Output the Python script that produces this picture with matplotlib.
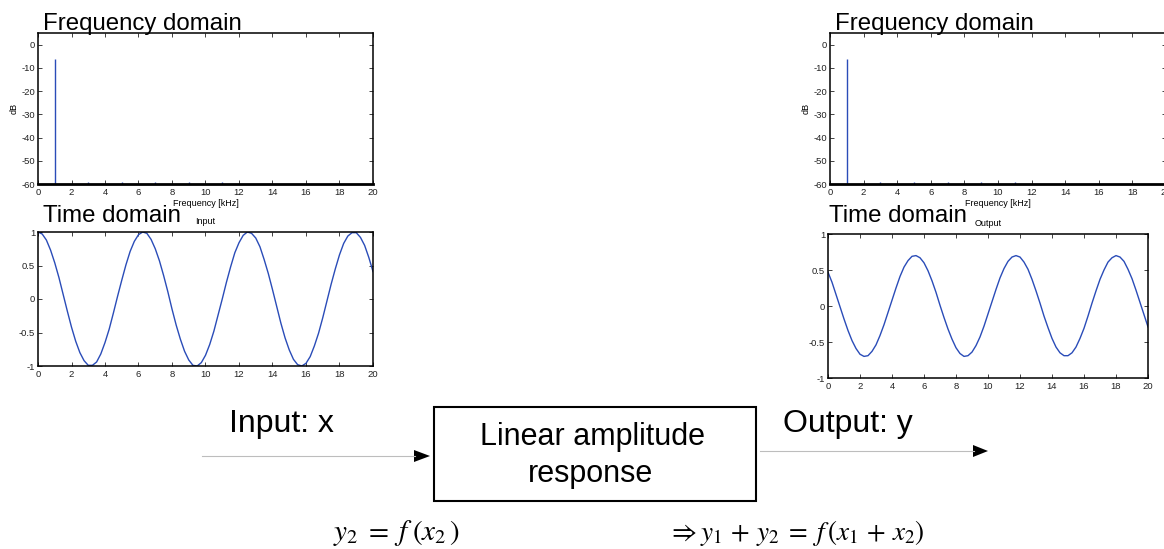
import matplotlib
matplotlib.use("Agg")
import matplotlib.pyplot as plt
from matplotlib.patches import Rectangle, Polygon

plt.rcParams.update({
    "font.family": ["Liberation Sans", "DejaVu Sans"],
    "mathtext.fontset": "stix",
    "axes.unicode_minus": False,
    "axes.linewidth": 1.1,
    "xtick.direction": "in",
    "ytick.direction": "in",
    "xtick.top": True,
    "ytick.right": True,
    "xtick.major.size": 3,
    "ytick.major.size": 3,
    "xtick.major.width": 0.6,
    "ytick.major.width": 0.6,
    "xtick.labelsize": 6.8,
    "ytick.labelsize": 6.8,
    "xtick.major.pad": 3,
    "ytick.major.pad": 2,
    "xtick.color": "#222222",
    "ytick.color": "#222222",
})

# --- data ---
# spectrum lines (kHz, dB)
freq_khz = [1, 3, 5, 7, 9, 11]
input_db = [-6.2, -59.3, -59.3, -59.3, -59.3, -59.3]
output_db = [-6.2, -59.3, -59.3, -59.3, -59.3, -59.3]

# time axis samples
time_t = [i * 0.25 for i in range(81)]
input_x = [1.00, 0.97, 0.88, 0.73, 0.54, 0.32, 0.07, -0.18, -0.42, -0.63,
           -0.80, -0.92, -0.99, -0.99, -0.94, -0.82, -0.65, -0.45, -0.21, 0.04,
           0.28, 0.51, 0.71, 0.86, 0.96, 1.00, 0.98, 0.89, 0.75, 0.57,
           0.35, 0.11, -0.15, -0.39, -0.60, -0.78, -0.91, -0.99, -1.00, -0.95,
           -0.84, -0.68, -0.48, -0.24, 0.00, 0.25, 0.48, 0.69, 0.84, 0.95,
           1.00, 0.98, 0.91, 0.78, 0.59, 0.38, 0.14, -0.11, -0.36, -0.58,
           -0.76, -0.90, -0.98, -1.00, -0.96, -0.86, -0.70, -0.51, -0.28, -0.03,
           0.22, 0.45, 0.66, 0.83, 0.94, 0.99, 0.99, 0.92, 0.80, 0.62,
           0.41]
output_y = [0.47, 0.33, 0.16, -0.01, -0.18, -0.34, -0.48, -0.59, -0.67, -0.70,
            -0.69, -0.63, -0.54, -0.41, -0.26, -0.09, 0.08, 0.25, 0.41, 0.54,
            0.63, 0.69, 0.70, 0.67, 0.60, 0.49, 0.35, 0.19, 0.01, -0.16,
            -0.32, -0.46, -0.58, -0.66, -0.70, -0.69, -0.64, -0.55, -0.43, -0.28,
            -0.11, 0.06, 0.23, 0.39, 0.52, 0.62, 0.68, 0.70, 0.68, 0.61,
            0.51, 0.37, 0.21, 0.04, -0.14, -0.30, -0.45, -0.57, -0.65, -0.69,
            -0.69, -0.65, -0.57, -0.45, -0.31, -0.14, 0.04, 0.21, 0.37, 0.50,
            0.61, 0.67, 0.70, 0.68, 0.62, 0.51, 0.38, 0.22, 0.05, -0.12,
            -0.29]

x_ticks = list(range(0, 21, 2))
db_ticks = [-60, -50, -40, -30, -20, -10, 0]
amp_ticks = [-1, -0.5, 0, 0.5, 1]
amp_labels = ["-1", "-0.5", "0", "0.5", "1"]

BLUE = "#2a4cb8"
W, H = 1164, 549
fig = plt.figure(figsize=(W / 100, H / 100), dpi=100)


def rect(l, t, r, b):
    return [l / W, 1 - b / H, (r - l) / W, (b - t) / H]


def freq_panel(pos, db):
    ax = fig.add_axes(rect(*pos))
    ax.vlines(freq_khz, -60, db, color=BLUE, lw=1)
    ax.set_xlim(0, 20)
    ax.set_ylim(-60, 5)
    ax.set_xticks(x_ticks)
    ax.set_yticks(db_ticks)
    ax.spines["bottom"].set_linewidth(2)
    ax.set_xlabel("Frequency [kHz]", fontsize=6.5, labelpad=1.5)
    ax.set_ylabel("dB", fontsize=6.5, labelpad=2)
    return ax


def time_panel(pos, sig, title):
    ax = fig.add_axes(rect(*pos))
    ax.plot(time_t, sig, color=BLUE, lw=1)
    ax.set_xlim(0, 20)
    ax.set_ylim(-1, 1)
    ax.set_xticks(x_ticks)
    ax.set_yticks(amp_ticks)
    ax.set_yticklabels(amp_labels)
    ax.set_title(title, fontsize=6.5, pad=5.5)
    return ax


freq_panel((38, 33, 373, 184), input_db)
time_panel((38, 232, 373, 366), input_x, "Input")
freq_panel((830, 33, 1166, 184), output_db)
time_panel((828, 234, 1148, 378), output_y, "Output")

big = 17.3
fig.text(43 / W, 1 - 30 / H, "Frequency domain", fontsize=big, va="baseline")
fig.text(43 / W, 1 - 222 / H, "Time domain", fontsize=big, va="baseline")
fig.text(835 / W, 1 - 30 / H, "Frequency domain", fontsize=big, va="baseline")
fig.text(829 / W, 1 - 222 / H, "Time domain", fontsize=big, va="baseline")

# --- block diagram in pixel coordinates ---
d = fig.add_axes([0, 0, 1, 1], zorder=-1)
d.set_xlim(0, W)
d.set_ylim(H, 0)
d.axis("off")

d.add_patch(Rectangle((434, 407), 322, 94, fill=False, ec="black", lw=1.5))
d.plot([202, 415], [456, 456], color="#bdbdbd", lw=0.8)
d.add_patch(Polygon([(414, 450), (414, 462), (430, 456)], closed=True, fc="black", ec="none"))
d.plot([760, 974], [451, 451], color="#bdbdbd", lw=0.8)
d.add_patch(Polygon([(973, 445), (973, 457), (988, 451)], closed=True, fc="black", ec="none"))

d.text(229, 432, "Input: x", fontsize=23, va="baseline")
d.text(783, 432, "Output: y", fontsize=23, va="baseline")
d.text(592, 445, "Linear amplitude", fontsize=22, va="baseline", ha="center")
d.text(591, 482, "response", fontsize=22, va="baseline", ha="center")
d.text(333, 540, r"$y_2\;=\;f\;(x_2\,)$", fontsize=21, va="baseline")
d.text(668, 540, r"$\Rightarrow y_1\,+\,y_2\;=\;f\,(x_1\,+\,x_2)$",
       fontsize=19.5, va="baseline")

fig.savefig("out.png", dpi=100)
